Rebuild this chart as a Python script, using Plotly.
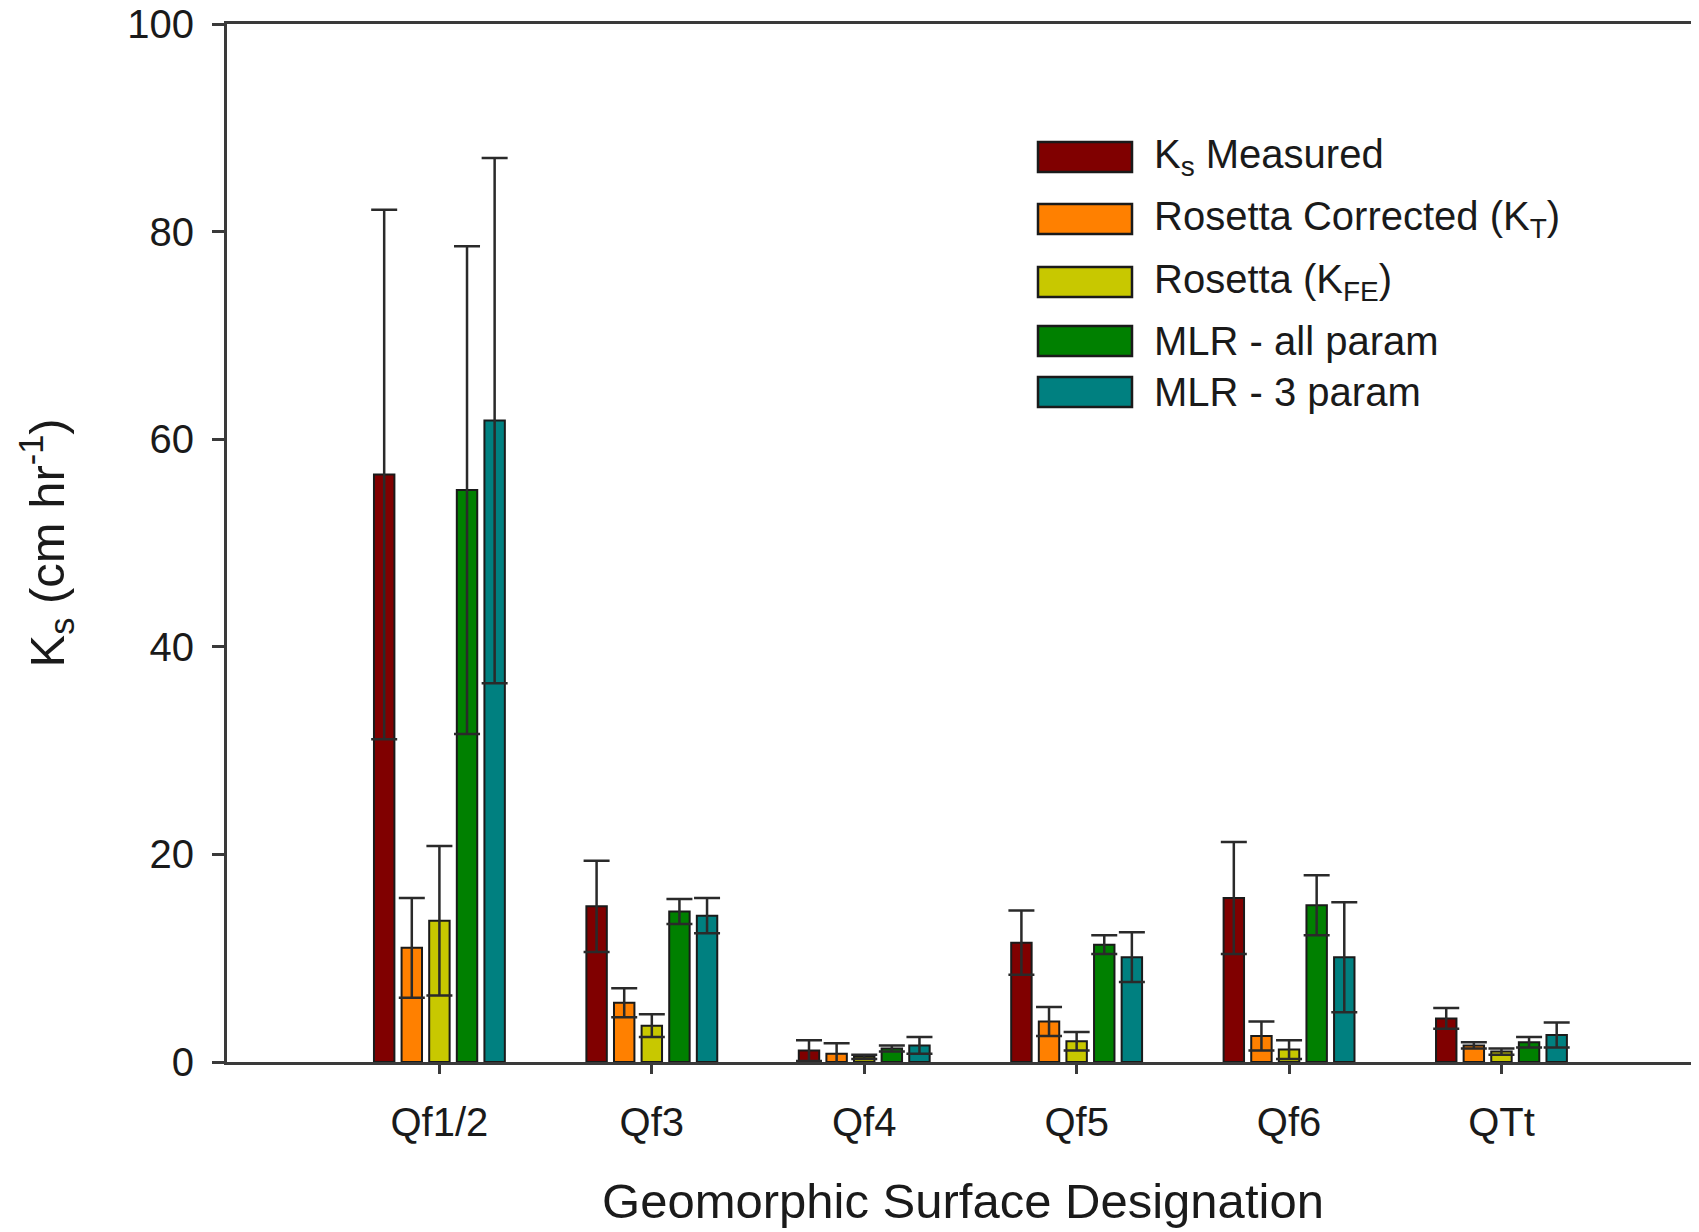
import plotly.graph_objects as go

categories = ["Qf1/2", "Qf3", "Qf4", "Qf5", "Qf6", "QTt"]
series_names = ["K<sub>s</sub> Measured", "Rosetta Corrected (K<sub>T</sub>)",
                "Rosetta (K<sub>FE</sub>)", "MLR - all param", "MLR - 3 param"]
ks_measured = [56.6, 15.0, 1.1, 11.5, 15.8, 4.2]
ks_measured_err = [25.5, 4.4, 1.0, 3.1, 5.4, 1.0]
rosetta_corrected = [11.0, 5.7, 0.8, 3.9, 2.5, 1.6]
rosetta_corrected_err = [4.8, 1.4, 1.0, 1.4, 1.4, 0.3]
rosetta = [13.6, 3.5, 0.5, 2.0, 1.2, 1.0]
rosetta_err = [7.2, 1.1, 0.2, 0.9, 0.9, 0.3]
mlr_all = [55.1, 14.5, 1.3, 11.3, 15.1, 1.9]
mlr_all_err = [23.5, 1.2, 0.3, 0.9, 2.9, 0.5]
mlr_3 = [61.8, 14.1, 1.6, 10.1, 10.1, 2.6]
mlr_3_err = [25.3, 1.7, 0.8, 2.4, 5.3, 1.2]
y_ticks = [0, 20, 40, 60, 80, 100]

colors = ["#800000", "#FF8000", "#C8C800", "#008000", "#008080"]
values = [ks_measured, rosetta_corrected, rosetta, mlr_all, mlr_3]
errors = [ks_measured_err, rosetta_corrected_err, rosetta_err, mlr_all_err, mlr_3_err]

FONT = "Liberation Sans, Arial, sans-serif"
TXT = "#1a1a1a"
AX = "#3a3a3a"

fig = go.Figure()
for name, col, v, e in zip(series_names, colors, values, errors):
    fig.add_trace(go.Bar(
        x=categories, y=v, name=name, showlegend=False,
        marker=dict(color=col, line=dict(color="#1a1a1a", width=2)),
        error_y=dict(type="data", array=e, symmetric=True, color="#2a2a2a",
                     thickness=2.5, width=13),
    ))

# page body has an 8px margin; figure coordinates are page coordinates minus 8
OFF = 8
L, R, T, B = 227 - OFF, 1699 - OFF, 24 - OFF, 1062 - OFF
W, H = 1699, 1232


def px_x(p):
    return (p - OFF - L) / (R - L)


def px_y(p):
    return (B - (p - OFF)) / (B - T)


legend_y = [157, 219, 282, 341, 392]
shapes = []
annotations = []
for name, col, yc in zip(series_names, colors, legend_y):
    shapes.append(dict(type="rect", xref="paper", yref="paper",
                       x0=px_x(1038), x1=px_x(1132),
                       y0=px_y(yc + 15), y1=px_y(yc - 15),
                       fillcolor=col, line=dict(color="#1a1a1a", width=2.5)))
    annotations.append(dict(xref="paper", yref="paper", x=px_x(1152), y=px_y(yc),
                            text=name, showarrow=False, xanchor="left", yanchor="middle",
                            font=dict(family=FONT, size=40, color=TXT)))

fig.update_layout(
    width=W, height=H,
    margin=dict(l=L, r=W - R, t=T, b=H - B, pad=0, autoexpand=False),
    paper_bgcolor="white", plot_bgcolor="white",
    barmode="group", bargap=0.35, bargroupgap=0.26,
    font=dict(family=FONT, size=40, color=TXT),
    shapes=shapes, annotations=annotations,
    xaxis=dict(
        type="category", range=[-1, 5.93], automargin=False,
        showline=True, linecolor=AX, linewidth=3, mirror=True,
        ticks="outside", ticklen=9, tickwidth=2.5, tickcolor=AX,
        ticklabelstandoff=14,
        showgrid=False, zeroline=False,
        tickfont=dict(family=FONT, size=40, color=TXT),
        title=dict(text="Geomorphic Surface Designation", standoff=41,
                   font=dict(family=FONT, size=49, color=TXT)),
    ),
    yaxis=dict(
        range=[0, 100], tickvals=y_ticks, automargin=False,
        ticklabeloverflow="allow",
        showline=True, linecolor=AX, linewidth=3, mirror=False,
        ticks="outside", ticklen=12, tickwidth=2.5, tickcolor=AX,
        ticklabelstandoff=10,
        showgrid=False, zeroline=False,
        tickfont=dict(family=FONT, size=40, color=TXT),
        title=dict(text="K<sub>s</sub> (cm hr<sup>-1</sup>)", standoff=48,
                   font=dict(family=FONT, size=49, color=TXT)),
    ),
)

fig.write_html("out.html")
